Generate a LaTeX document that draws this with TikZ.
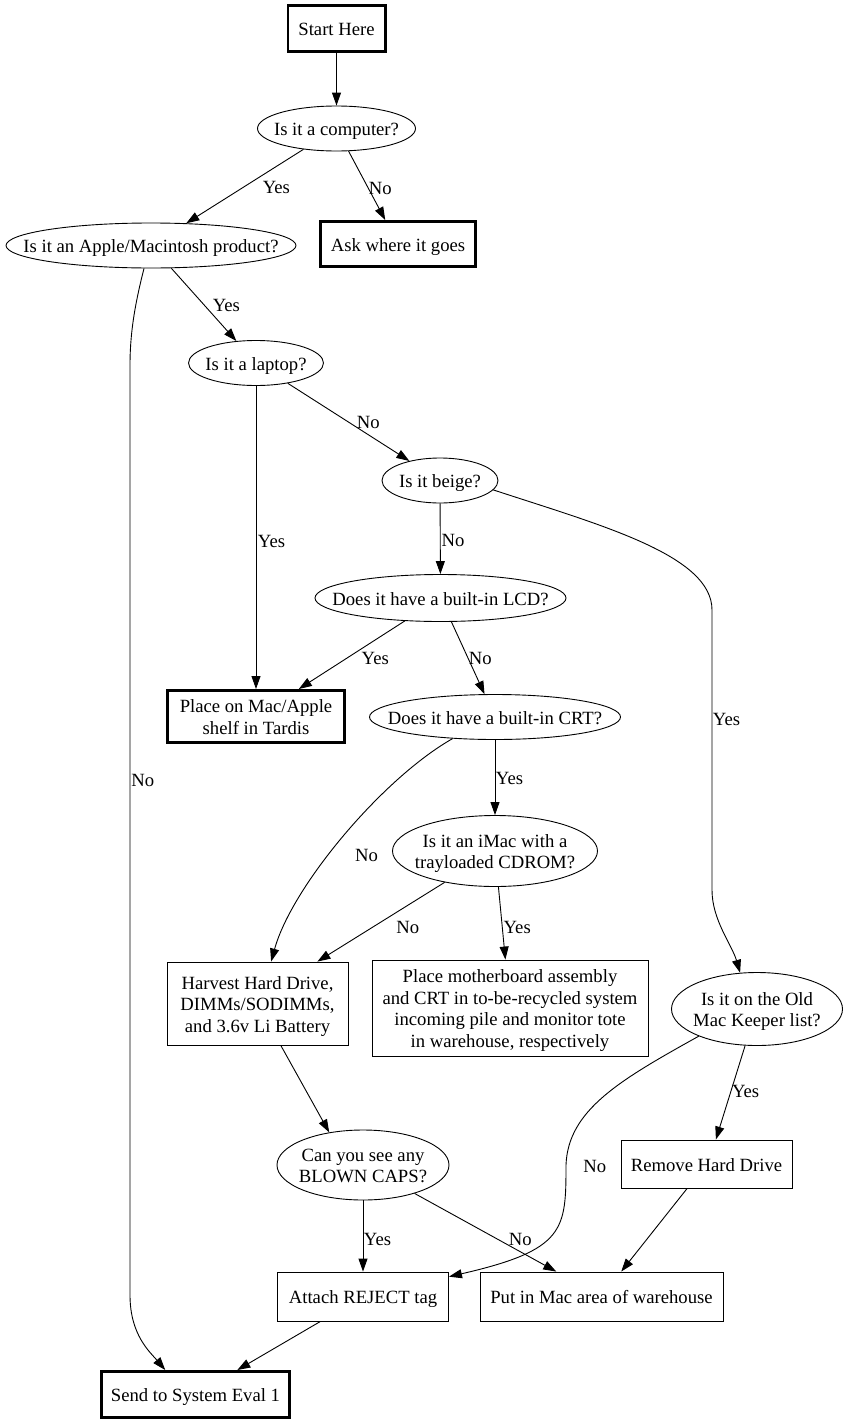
\documentclass[tikz,border=0pt]{standalone}
\usepackage{fontspec}
\setmainfont{Liberation Serif}
\usetikzlibrary{shapes.geometric,arrows.meta}
\newcommand\gvtop{\rule{0pt}{19pt}}
\newcommand\gvbot{\rule[-4.6pt]{0pt}{4.6pt}}
\tikzset{
  quest/.style={draw,ellipse,inner sep=0pt,label={[align=center]center:#1}},
  act/.style={draw,rectangle,inner sep=0pt,align=center},
  fin/.style={act,line width=2.6pt},
  lbl/.style={inner sep=0pt}
}
\begin{document}
\begin{tikzpicture}[x=1pt,y=-1pt,line width=.9pt,>={Triangle[length=13pt,width=9pt]},
  font=\fontsize{18.67}{21.5}\selectfont,
  execute at begin node=\gvtop,execute at end node=\gvbot]
\useasboundingbox (0,0) rectangle (849,1424);
\node[fin,minimum width=97.4pt,minimum height=46pt] (start) at (336.5,28.5) {Start Here};
\node[quest={Is it a computer?},minimum width=158pt,minimum height=45pt] (comp) at (336.5,128.5) {};
\node[quest={Is it an Apple/Macintosh product?},minimum width=290pt,minimum height=45pt] (apple) at (151,245.5) {};
\node[fin,minimum width=155.4pt,minimum height=45.4pt] (ask) at (398,244) {Ask where it goes};
\node[quest={Is it a laptop?},minimum width=135pt,minimum height=45pt] (laptop) at (256,363) {};
\node[quest={Is it beige?},minimum width=116pt,minimum height=45pt] (beige) at (440,480.5) {};
\node[quest={Does it have a built-in LCD?},minimum width=251pt,minimum height=47pt] (lcd) at (440.5,598) {};
\node[fin,minimum width=176.7pt,minimum height=52.4pt] (macshelf) at (256,716.5) {\gvtop Place on Mac/Apple\\shelf in Tardis\gvbot};
\node[quest={Does it have a built-in CRT?},minimum width=251pt,minimum height=45pt] (crt) at (495,717) {};
\node[quest={\gvtop Is it an iMac with a\\trayloaded CDROM?\gvbot},minimum width=205pt,minimum height=71pt] (imac) at (495,851) {};
\node[act,minimum width=181pt,minimum height=83pt] (harvest) at (257.5,1003.5) {\gvtop Harvest Hard Drive,\\DIMMs/SODIMMs,\\and 3.6v Li Battery\gvbot};
\node[act,minimum width=276pt,minimum height=96pt] (mobo) at (510,1008) {\gvtop Place motherboard assembly\\and CRT in to-be-recycled system\\incoming pile and monitor tote\\in warehouse, respectively\gvbot};
\node[quest={\gvtop Is it on the Old\\Mac Keeper list?\gvbot},minimum width=171pt,minimum height=73pt] (keeper) at (757,1009) {};
\node[quest={\gvtop Can you see any\\BLOWN CAPS?\gvbot},minimum width=172pt,minimum height=70pt] (caps) at (363,1165) {};
\node[act,minimum width=171pt,minimum height=48pt] (remove) at (706.5,1164) {Remove Hard Drive};
\node[act,minimum width=171pt,minimum height=49pt] (reject) at (363,1296.5) {Attach REJECT tag};
\node[act,minimum width=243pt,minimum height=49pt] (macarea) at (601.5,1296.5) {Put in Mac area of warehouse};
\node[fin,minimum width=188.4pt,minimum height=46.4pt] (eval) at (195.5,1394.5) {Send to System Eval 1};

\draw[->] (start) -- (comp);
\draw[->] (comp) -- node[lbl,pos=.5,right=17.5pt]{Yes} (apple);
\draw[->] (comp) -- node[lbl,pos=.53,right=.5pt]{No} (ask);
\draw[->] (apple) -- node[lbl,pos=.5,right=8.5pt]{Yes} (laptop);
\draw[->] (apple.253) .. controls (136,300) and (130,330) .. (130,365) -- node[lbl,pos=.445,right=1pt]{No} (130,1295) .. controls (130,1335) and (150,1352) .. (eval.141);
\draw[->] (laptop) -- node[lbl,pos=.51,right=1.5pt]{Yes} (macshelf);
\draw[->] (laptop) -- node[lbl,pos=.494,right=8.5pt]{No} (beige);
\draw[->] (beige) -- node[lbl,pos=.51,right=1pt]{No} (lcd);
\draw[->] (beige.-10) .. controls (600,525) and (712,555) .. (712,610) -- node[lbl,pos=.386,right=.5pt]{Yes} (712,890) .. controls (712,920) and (732,945) .. (keeper.115);
\draw[->] (lcd) -- node[lbl,pos=.533,right=13pt]{Yes} (macshelf);
\draw[->] (lcd) -- node[lbl,pos=.484,right=1pt]{No} (crt);
\draw[->] (crt) -- node[lbl,pos=.5,right=.5pt]{Yes} (imac);
\draw[->] (crt.207) .. controls (383,778) and (292,886) .. node[lbl,pos=.57,right=25pt]{No} (harvest.72);
\draw[->] (imac) -- node[lbl,pos=.56,right=22.5pt]{No} (harvest.35);
\draw[->] (imac) -- node[lbl,pos=.537,right=1pt]{Yes} (mobo);
\draw[->] (harvest) -- (caps.136);
\draw[->] (caps) -- node[lbl,pos=.53,right=.5pt]{Yes} (reject);
\draw[->] (caps) -- node[lbl,pos=.57,right=13pt]{No} (macarea);
\draw[->] (keeper.205) .. controls (620,1080) and (568,1110) .. (566,1165) node[lbl,right=17pt]{No} .. controls (566,1230) and (565,1250) .. (reject.13);
\draw[->] (keeper.252) -- node[lbl,pos=.48,right=.5pt]{Yes} (remove.69);
\draw[->] (remove) -- (macarea);
\draw[->] (reject) -- (eval);
\end{tikzpicture}
\end{document}
